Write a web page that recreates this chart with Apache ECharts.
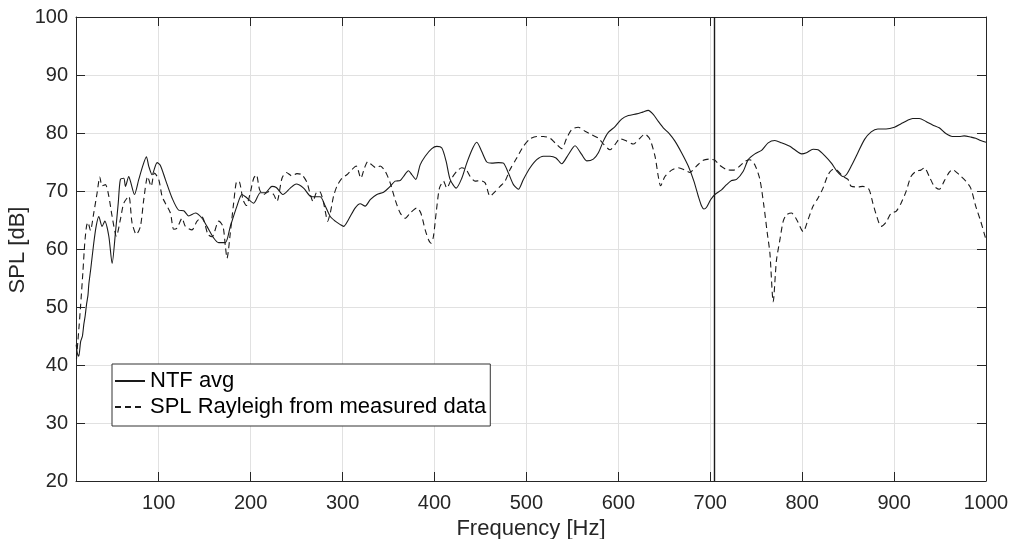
<!DOCTYPE html>
<html>
<head>
<meta charset="utf-8">
<script src="https://cdn.jsdelivr.net/npm/echarts@6/dist/echarts.min.js"></script>
<style>
  html, body { margin: 0; padding: 0; background: #fff; }
  #chart { width: 1016px; height: 539px; }
</style>
</head>
<body>
<div id="chart"></div>
<script>
// Frequency response: averaged NTF vs. Rayleigh SPL estimate
const xTicks = [100, 200, 300, 400, 500, 600, 700, 800, 900, 1000];
const markerFreq = 704;

const ntfFreq = [10.2, 11.5, 13, 15, 17, 18.5, 20, 21.5, 23, 24, 26, 29.3, 32, 34.8, 38.4, 41.3, 45.7, 49.3, 52.9, 56, 58.3, 62, 63.8, 67.4, 69.2, 73.6, 78.3, 83, 86.6, 89.1, 92.8, 98.2, 101.8, 107.2, 114.5, 121.7, 127.2, 132.6, 139.9, 147.1, 152.5, 159.8, 165.2, 172.5, 177.9, 185.1, 190.6, 196, 203.3, 210.5, 215.9, 223.2, 227.9, 235.1, 243.1, 249.6, 257.6, 264.9, 270.3, 275.7, 281.2, 286.6, 292, 297.5, 301.1, 306.5, 313.8, 319.2, 324.6, 330.1, 337.3, 344.6, 351.8, 357.2, 362.7, 366.3, 371.7, 375.4, 379.7, 384.4, 389.9, 397.1, 402.5, 408, 412.7, 417, 423.6, 429.7, 435.1, 441.7, 446, 451.4, 456.9, 462.3, 469.6, 475, 480.4, 485.9, 491.3, 496.7, 504, 511.2, 518.5, 525.7, 532.2, 538.4, 545.7, 552.9, 560.1, 565.6, 572.8, 578.3, 583.7, 589.1, 596.4, 603.6, 610.9, 619.9, 626.4, 632.6, 638, 643.5, 648.9, 655.4, 661.6, 668.8, 676.1, 682.2, 687, 690.6, 693.1, 696, 700.4, 705.1, 712.3, 717.8, 723.2, 728.6, 735.9, 741.3, 748.6, 755.8, 763, 770.3, 777.5, 786.6, 792, 799.3, 804.7, 811.9, 817.3, 824.5, 831.8, 837.9, 844.4, 848, 853.4, 860.6, 867.9, 875.1, 882.3, 891.3, 900.4, 907.6, 914.8, 920.2, 927.4, 934.7, 941.9, 949.1, 956.3, 963.5, 970.8, 976.2, 983.4, 988.8, 994.2, 1000];
const ntfLevel = [43.5, 42, 41.5, 44, 45, 47, 48.5, 50.5, 52, 54, 56.5, 61, 64, 65.6, 63.9, 64.8, 62.2, 57.5, 62.8, 68, 72, 72.2, 70.8, 72.5, 71.7, 69.4, 72, 74.5, 75.9, 74.3, 72.8, 74.9, 74.4, 72, 68.8, 66.7, 66.6, 65.7, 66.2, 65.3, 63.9, 61.9, 61.1, 61.1, 63.9, 67.4, 69.4, 68.8, 67.9, 69.7, 69.7, 70.8, 70.6, 69.4, 70.5, 71.2, 70.5, 69.1, 69, 69, 67.4, 65.6, 64.8, 64.2, 63.9, 65.1, 67.1, 67.8, 67.4, 68.5, 69.4, 69.8, 70.8, 71.7, 71.8, 72.5, 73.5, 72.8, 72, 74.5, 76, 77.3, 77.7, 77.4, 75.1, 72, 70.5, 72.2, 74.8, 77.4, 78.4, 76.8, 75, 74.8, 74.9, 74.8, 73.1, 71.1, 70.3, 72, 74, 75.4, 76, 76, 75.7, 74.7, 76.3, 77.8, 76.3, 75.2, 75.5, 76.6, 78.6, 80.1, 81.1, 82.4, 83, 83.3, 83.6, 83.9, 83.2, 82, 80.9, 79.9, 78.6, 76.6, 74.3, 71.7, 69.1, 67.4, 66.9, 67.2, 68.5, 69.4, 70.2, 71.1, 71.8, 72, 73.4, 75.4, 76.4, 77, 78.3, 78.7, 78.3, 77.7, 77.1, 76.4, 76.6, 77.2, 77.1, 76.1, 74.8, 73.4, 72.5, 72.8, 74.3, 76.6, 78.9, 80.2, 80.7, 80.7, 81, 81.6, 82.2, 82.5, 82.5, 82, 81.4, 80.9, 79.9, 79.4, 79.4, 79.5, 79.3, 79.1, 78.7, 78.4];

const rayFreq = [10.5, 12, 13.5, 14.9, 17.5, 19.5, 21.5, 23, 25.7, 29.3, 33, 35.9, 38.4, 42, 45.7, 49.3, 54, 58.3, 62, 67.4, 71, 75.7, 80.1, 83.7, 88, 91.7, 95.3, 100, 103.6, 107.2, 112.7, 116.3, 119.9, 125.4, 129, 136.2, 141.7, 147.1, 153.6, 158, 165.2, 169.9, 172.5, 174.3, 177.9, 181.5, 185.1, 188, 191.7, 195.3, 199.6, 203.3, 206.2, 209.8, 214.1, 219.6, 225, 228.6, 234.1, 238.8, 244.9, 250.4, 255.8, 261.2, 264.1, 267.8, 271.4, 275, 278.6, 281.2, 283.7, 286.6, 290.2, 293.8, 299.3, 304.7, 310.1, 314.9, 319.9, 323.9, 327.5, 331.9, 336.6, 340.9, 346.4, 351.8, 357.2, 362.7, 368.1, 373.6, 380.8, 385.1, 389.9, 393.5, 396.4, 398.9, 401.8, 405.4, 409.8, 413.4, 418.8, 424.3, 429.7, 434.4, 438.8, 444.2, 449.6, 455.1, 460.5, 465.9, 471.4, 476.8, 482.2, 489.5, 496.7, 504, 511.2, 518.5, 525.7, 531.2, 538.4, 543.8, 549.3, 556.5, 563.8, 571, 578.3, 584.4, 590.9, 596.4, 601.8, 609.1, 616.3, 622.8, 629, 634.4, 639.9, 643.5, 646, 650.7, 658, 665.2, 672.5, 677.9, 685.1, 692.4, 699.6, 705.1, 710.5, 717.8, 725, 732.2, 737.7, 743.1, 748.6, 754, 758.4, 762, 764.9, 768.5, 772, 775.8, 779.4, 783, 788.4, 793.9, 801.1, 806.5, 811.9, 817.3, 822.7, 828.2, 833.6, 837.9, 844.4, 849.8, 853.4, 860.6, 866.1, 872.6, 876.9, 881.2, 885.9, 891.3, 896.8, 902.2, 907.6, 913, 918.4, 923.9, 929.2, 932.9, 938.3, 943.7, 949.1, 954.5, 959.9, 963.5, 970.8, 978, 983.4, 988.8, 994.2, 1000];
const rayLevel = [41, 44, 47, 50, 56, 61, 64, 64.6, 63.2, 66.2, 69.7, 72.4, 70.9, 71.1, 69.1, 65.6, 62.2, 65.1, 67.9, 69.1, 64.5, 62.5, 63.9, 68.5, 72.5, 70.8, 73.1, 72, 69.1, 67.9, 66.2, 63.4, 63.6, 65.3, 63.9, 63.3, 64.8, 65.5, 62.5, 62.1, 64.8, 63.9, 60.5, 58.4, 62.8, 67.9, 71.7, 71.5, 68.5, 67.5, 69.7, 72.2, 72.8, 70.2, 69.4, 69.9, 69.4, 68.2, 72.2, 73.2, 72.6, 73, 72.8, 71.5, 69.9, 68.2, 69.7, 69.9, 68.5, 66.5, 64.8, 66.2, 69.1, 70.8, 72.2, 72.8, 73.7, 74.3, 72.2, 74, 75.1, 74.5, 74, 74.3, 73.4, 71.4, 68.5, 66.2, 65.3, 66.2, 67.1, 66.2, 63.3, 61.6, 61, 62.2, 66.2, 70.5, 71.7, 70.5, 72.2, 73.4, 74, 73.7, 72.5, 71.7, 71.8, 71.4, 69.1, 69.9, 70.8, 71.7, 73.7, 75.7, 77.7, 79, 79.4, 79.4, 79.1, 78.3, 77.3, 79.1, 80.6, 81, 80.3, 79.7, 79.1, 78, 77.1, 78, 79, 78.6, 78.1, 79, 79.8, 78.9, 76, 72.5, 70.9, 72.5, 73.6, 74, 73.6, 73.2, 74.3, 75.3, 75.5, 75.3, 74.4, 73.7, 73.6, 74.3, 75.1, 75.4, 74.5, 72, 67.4, 62.8, 59.3, 50.9, 58, 61.6, 64.8, 65.9, 66.2, 65.1, 63, 65.1, 67.4, 68.8, 70.5, 72.8, 73.7, 73.6, 72.5, 72, 70.8, 70.7, 70.8, 70.3, 67.9, 65.6, 63.9, 64.6, 66.2, 66.5, 67.9, 69.9, 72.5, 73.4, 73.6, 74, 72.5, 70.8, 70.3, 71.7, 73.2, 73.7, 72.8, 71.7, 70.5, 67.4, 64.8, 61.6];

const pairs = (xs, ys) => xs.map((x, i) => [x, ys[i]]);

const FONT = '"Liberation Sans", Arial, sans-serif';
const AXIS_COLOR = '#262626';
const GRID_COLOR = '#e1e1e1';
const LINE_COLOR = '#1a1a1a';

const chart = echarts.init(document.getElementById('chart'), null, { renderer: 'canvas' });

const tickStyle = { show: true, inside: true, length: 9, lineStyle: { color: AXIS_COLOR, width: 1 } };
const plainNumber = v => String(v);

chart.setOption({
  animation: false,
  backgroundColor: '#ffffff',
  grid: { left: 76, right: 30, top: 17, bottom: 58, containLabel: false, outerBoundsMode: 'none' },
  // vertical axis title, placed beside the tick labels
  graphic: [
    {
      type: 'text',
      x: 18,
      y: 250,
      rotation: Math.PI / 2,
      silent: true,
      style: {
        text: 'SPL [dB]',
        fontFamily: FONT,
        fontSize: 22,
        fill: AXIS_COLOR,
        align: 'center',
        verticalAlign: 'middle'
      }
    }
  ],
  legend: {
    orient: 'vertical',
    left: 112,
    top: 364,
    padding: [6, 4, 8, 2],
    itemGap: 4,
    itemWidth: 30,
    itemHeight: 14,
    backgroundColor: '#ffffff',
    borderColor: '#333333',
    borderWidth: 1,
    itemStyle: { color: 'rgba(0,0,0,0)', borderColor: 'rgba(0,0,0,0)', borderWidth: 0 },
    textStyle: { fontFamily: FONT, fontSize: 22, color: '#000000' },
    data: ['NTF avg', 'SPL Rayleigh from measured data']
  },
  xAxis: [
    {
      type: 'value',
      position: 'bottom',
      min: 10,
      max: 1000,
      name: 'Frequency [Hz]',
      nameLocation: 'middle',
      nameGap: 36,
      nameTextStyle: { fontFamily: FONT, fontSize: 22, color: AXIS_COLOR },
      axisLine: { show: true, onZero: false, lineStyle: { color: AXIS_COLOR, width: 1 } },
      axisTick: Object.assign({ customValues: xTicks }, tickStyle),
      axisLabel: { customValues: xTicks, formatter: plainNumber, margin: 12, fontFamily: FONT, fontSize: 20, color: AXIS_COLOR },
      splitLine: { show: true, lineStyle: { color: GRID_COLOR, width: 1 } }
    },
    {
      type: 'value',
      position: 'top',
      min: 10,
      max: 1000,
      axisLine: { show: true, onZero: false, lineStyle: { color: AXIS_COLOR, width: 1 } },
      axisTick: Object.assign({ customValues: xTicks }, tickStyle),
      axisLabel: { show: false },
      splitLine: { show: false }
    }
  ],
  yAxis: [
    {
      type: 'value',
      position: 'left',
      min: 20,
      max: 100,
      interval: 10,
      axisLine: { show: true, onZero: false, lineStyle: { color: AXIS_COLOR, width: 1 } },
      axisTick: tickStyle,
      axisLabel: { formatter: plainNumber, margin: 8, fontFamily: FONT, fontSize: 20, color: AXIS_COLOR },
      splitLine: { show: true, lineStyle: { color: GRID_COLOR, width: 1 } }
    },
    {
      type: 'value',
      position: 'right',
      min: 20,
      max: 100,
      interval: 10,
      axisLine: { show: true, onZero: false, lineStyle: { color: AXIS_COLOR, width: 1 } },
      axisTick: tickStyle,
      axisLabel: { show: false },
      splitLine: { show: false }
    }
  ],
  series: [
    {
      name: 'NTF avg',
      type: 'line',
      xAxisIndex: 0,
      yAxisIndex: 0,
      data: pairs(ntfFreq, ntfLevel),
      showSymbol: false,
      symbol: 'none',
      smooth: 0.25,
      lineStyle: { color: LINE_COLOR, width: 1.1, type: 'solid' },
      itemStyle: { color: LINE_COLOR },
      markLine: {
        silent: true,
        symbol: 'none',
        label: { show: false },
        lineStyle: { color: LINE_COLOR, width: 1.4, type: 'solid' },
        data: [{ xAxis: markerFreq }]
      },
      z: 3
    },
    {
      name: 'SPL Rayleigh from measured data',
      type: 'line',
      xAxisIndex: 0,
      yAxisIndex: 0,
      data: pairs(rayFreq, rayLevel),
      showSymbol: false,
      symbol: 'none',
      smooth: 0.25,
      lineStyle: { color: LINE_COLOR, width: 1.1, type: [6, 4] },
      itemStyle: { color: LINE_COLOR },
      z: 3
    }
  ]
});
</script>
</body>
</html>
